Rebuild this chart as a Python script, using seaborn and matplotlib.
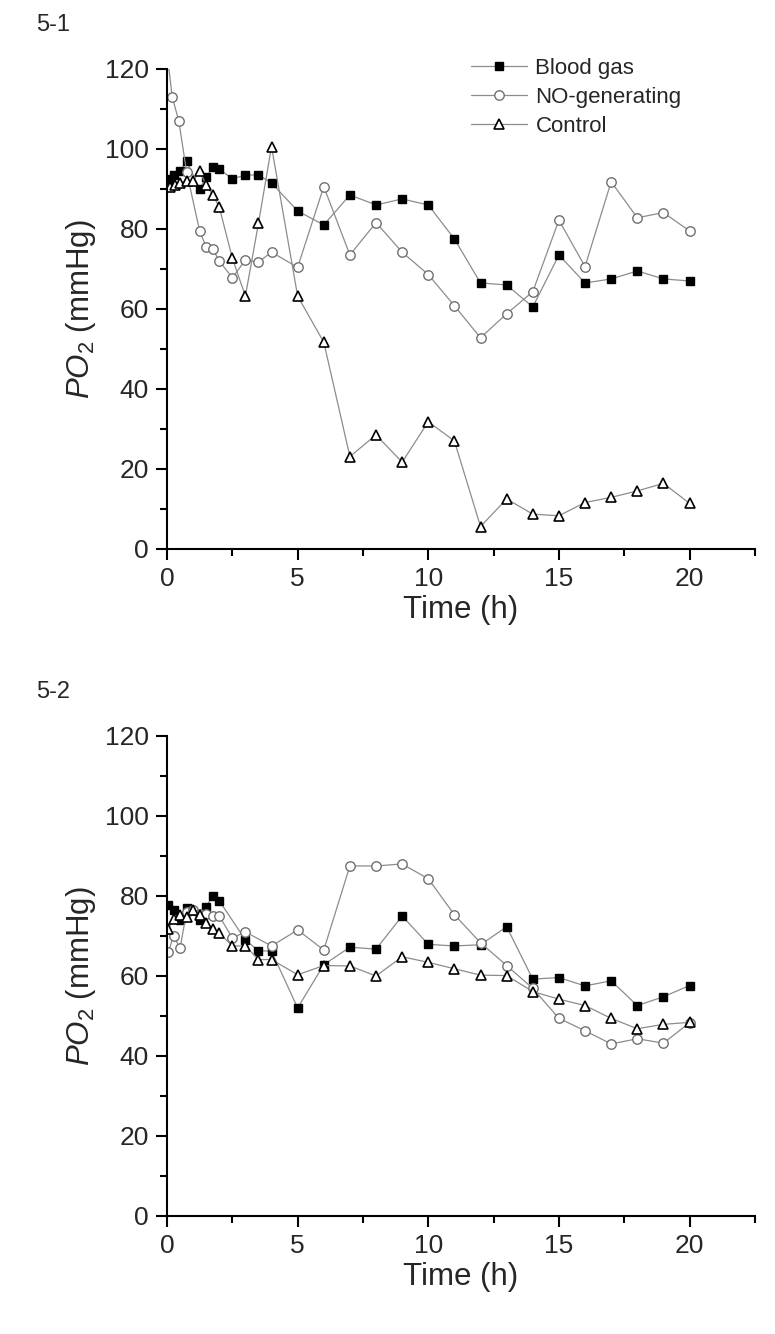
import matplotlib
matplotlib.use('Agg')
import matplotlib.pyplot as plt
import seaborn as sns
from matplotlib.ticker import MultipleLocator

sns.set_style('ticks')
plt.rcParams['font.family'] = ['Liberation Sans', 'DejaVu Sans']
plt.rcParams['mathtext.fontset'] = 'custom'
plt.rcParams['mathtext.rm'] = 'Liberation Sans'
plt.rcParams['mathtext.it'] = 'Liberation Sans:italic'

# ---- panel 5-1 ----
blood_t1 = [0.1, 0.25, 0.5, 0.75, 1.25, 1.5, 1.75, 2, 2.5, 3, 3.5, 4,
            5, 6, 7, 8, 9, 10, 11, 12, 13, 14, 15, 16, 17, 18, 19, 20]
blood_v1 = [92.5, 93.5, 94.5, 97, 90, 93, 95.5, 95, 92.5, 93.5, 93.5, 91.5,
            84.5, 81, 88.5, 86, 87.5, 86, 77.5, 66.5, 66, 60.5, 73.5, 66.5, 67.5, 69.5, 67.5, 67]

no_t1 = [0, 0.2, 0.45, 0.75, 1.25, 1.5, 1.75, 2, 2.5, 3, 3.5, 4,
         5, 6, 7, 8, 9, 10, 11, 12, 13, 14, 15, 16, 17, 18, 19, 20]
no_v1 = [124, 113, 107, 94.3, 79.5, 75.5, 75, 72, 67.8, 72.2, 71.7, 74.2,
         70.4, 90.6, 73.5, 81.6, 74.2, 68.6, 60.8, 52.8, 58.8, 64.3, 82.2, 70.6, 91.8, 82.8, 84.1, 79.5]

ctrl_t1 = [0.1, 0.3, 0.5, 0.75, 1, 1.25, 1.5, 1.75, 2, 2.5, 3, 3.5, 4,
           5, 6, 7, 8, 9, 10, 11, 12, 13, 14, 15, 16, 17, 18, 19, 20]
ctrl_v1 = [90.5, 91, 91.5, 92, 92, 94.5, 91, 88.5, 85.5, 72.7, 63.2, 81.4, 100.6,
           63.2, 51.7, 23.1, 28.5, 21.7, 31.8, 27, 5.6, 12.5, 8.7, 8.3, 11.6, 12.9, 14.5, 16.4, 11.4]

# ---- panel 5-2 ----
blood_t2 = [0.05, 0.25, 0.5, 0.75, 1.25, 1.5, 1.75, 2, 3, 3.5, 4,
            5, 6, 7, 8, 9, 10, 11, 12, 13, 14, 15, 16, 17, 18, 19, 20]
blood_v2 = [77.7, 76.5, 74, 76.9, 74, 77.3, 80, 78.8, 69, 66.3, 66.2,
            52, 62.8, 67.2, 66.7, 75, 67.9, 67.5, 67.8, 72.3, 59.2, 59.6, 57.5, 58.8, 52.6, 54.8, 57.6]

no_t2 = [0.05, 0.25, 0.5, 0.75, 1, 1.25, 1.5, 1.75, 2, 2.5, 3, 4,
         5, 6, 7, 8, 9, 10, 11, 12, 13, 14, 15, 16, 17, 18, 19, 20]
no_v2 = [66, 70, 67, 76, 76.5, 75.5, 75.5, 75, 75, 69.5, 71, 67.5,
         71.5, 66.5, 87.5, 87.5, 88, 84.3, 75.3, 68.3, 62.6, 56.9, 49.4, 46.3, 43, 44.3, 43.2, 48.3]

ctrl_t2 = [0.05, 0.25, 0.5, 0.75, 1, 1.25, 1.5, 1.75, 2, 2.5, 3, 3.5, 4,
           5, 6, 7, 8, 9, 10, 11, 12, 13, 14, 15, 16, 17, 18, 19, 20]
ctrl_v2 = [71.7, 74.2, 75.2, 74.8, 76.5, 75.3, 73.3, 71.8, 70.7, 67.5, 67.5, 64.1, 64.1,
           60.3, 62.6, 62.5, 60, 64.8, 63.4, 61.8, 60.2, 60.1, 56.1, 54.2, 52.6, 49.4, 46.8, 47.9, 48.4]

labels = ['Blood gas', 'NO-generating', 'Control']
line_col = '#8c8c8c'


def draw(ax, t, v, marker, ms, mfc, mec, mew, label=None):
    sns.lineplot(x=t, y=v, ax=ax, color=line_col, linewidth=0.9, marker=marker,
                 markersize=ms, markerfacecolor=mfc, markeredgecolor=mec,
                 markeredgewidth=mew, estimator=None, sort=False, label=label,
                 legend=label is not None)


def style_axis(ax):
    ax.set_xlim(0, 22.5)
    ax.set_ylim(0, 120)
    ax.xaxis.set_major_locator(MultipleLocator(5))
    ax.xaxis.set_minor_locator(MultipleLocator(2.5))
    ax.yaxis.set_major_locator(MultipleLocator(20))
    ax.yaxis.set_minor_locator(MultipleLocator(10))
    ax.set_xticks([0, 5, 10, 15, 20])
    ax.tick_params(which='major', direction='out', length=8, width=1.5,
                   labelsize=19, pad=5, color='black')
    ax.tick_params(which='minor', direction='out', length=5, width=1.5, color='black')
    for side in ['left', 'bottom']:
        ax.spines[side].set_linewidth(1.5)
        ax.spines[side].set_color('black')
    sns.despine(ax=ax)
    ax.set_xlabel('Time (h)', fontsize=22.5, labelpad=3)
    ax.set_ylabel(r'$\mathit{PO}_2$ (mmHg)', fontsize=22.5, labelpad=5)


fig = plt.figure(figsize=(7.75, 13.34), dpi=100)
ax1 = fig.add_axes([0.2155, 0.5885, 0.7585, 0.3598])
ax2 = fig.add_axes([0.2155, 0.0885, 0.7585, 0.3598])

draw(ax1, blood_t1, blood_v1, 's', 5.5, 'black', 'black', 1.0, labels[0])
draw(ax1, no_t1, no_v1, 'o', 6.8, 'white', '#707070', 1.0, labels[1])
draw(ax1, ctrl_t1, ctrl_v1, '^', 7.5, 'white', 'black', 1.2, labels[2])

draw(ax2, blood_t2, blood_v2, 's', 5.5, 'black', 'black', 1.0)
draw(ax2, no_t2, no_v2, 'o', 6.8, 'white', '#707070', 1.0)
draw(ax2, ctrl_t2, ctrl_v2, '^', 7.5, 'white', 'black', 1.2)

style_axis(ax1)
style_axis(ax2)

ax1.legend(loc='upper left', bbox_to_anchor=(471 / 775, 1 - 58 / 1334),
           bbox_transform=fig.transFigure, frameon=False, fontsize=16,
           handlelength=2.5, handletextpad=0.4, labelspacing=0.35,
           borderpad=0, borderaxespad=0)

fig.text(36 / 775, 1 - 25 / 1334, '5-1', fontsize=17, va='center', ha='left')
fig.text(36 / 775, 1 - 692 / 1334, '5-2', fontsize=17, va='center', ha='left')

fig.savefig('out.png', dpi=100, facecolor='white')
